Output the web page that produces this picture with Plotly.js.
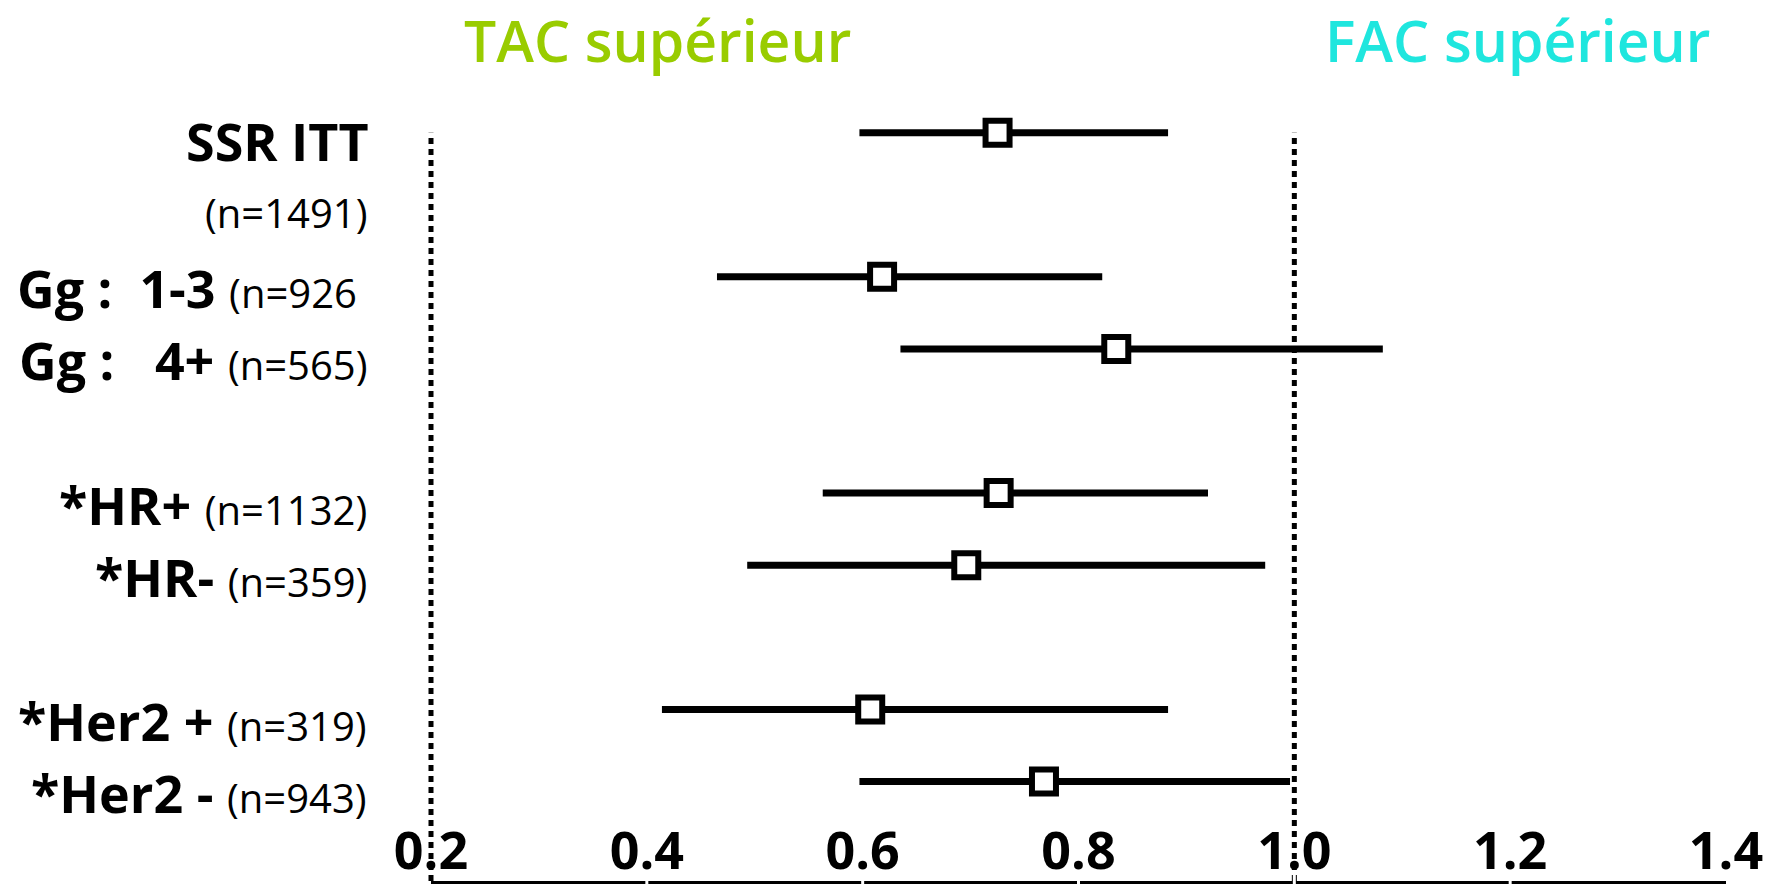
<!DOCTYPE html>
<html>
<head>
<meta charset="utf-8">
<script src="https://cdn.plot.ly/plotly-3.0.1.min.js"></script>
<style>
html, body { margin: 0; padding: 0; background: #ffffff; }
#chart { width: 1787px; height: 884px; }
</style>
</head>
<body>
<div id="chart"></div>
<script>
// ---- data ----
const groups = ['SSR ITT', 'Gg : \u00A01-3', 'Gg : \u00A0\u00A04+', '*HR+', '*HR-', '*Her2 +', '*Her2 -'];
const counts = ['(n=1491)', '(n=926\u00A0', '(n=565)', '(n=1132)', '(n=359)', '(n=319)', '(n=943)'];
const hazardRatio = [0.725, 0.618, 0.835, 0.726, 0.696, 0.607, 0.768];
const ciLow  = [0.597, 0.465, 0.635, 0.563, 0.493, 0.414, 0.597];
const ciHigh = [0.883, 0.822, 1.082, 0.920, 0.973, 0.883, 0.996];
const xTickVals = [0.2, 0.4, 0.6, 0.8, 1.0, 1.2, 1.4];
const xTickText = ['0.2', '0.4', '0.6', '0.8', '1.0', '1.2', '1.4'];
const refLines = [0.2, 1.0];
const sideTitles = ['TAC supérieur', 'FAC supérieur'];

// ---- layout constants ----
const rowSlots = [0, 2, 3, 5, 6, 8, 9];       // vertical slot of each group
const countOwnLine = [true, false, false, false, false, false, false];
const xRange = [0.2, 1.4];
const yRange = [10.38, -0.3];
const FONT = 'Open Sans, Liberation Sans, sans-serif';

const trace = {
  type: 'scatter',
  mode: 'markers',
  x: hazardRatio,
  y: rowSlots,
  cliponaxis: false,
  marker: { symbol: 'square', size: 24, color: '#ffffff', line: { color: '#000000', width: 6 } },
  error_x: {
    type: 'data', symmetric: false,
    array: ciHigh.map((h, i) => h - hazardRatio[i]),
    arrayminus: ciLow.map((l, i) => hazardRatio[i] - l),
    thickness: 7, width: 0, color: '#000000'
  },
  hoverinfo: 'skip',
  showlegend: false
};

const firstRowPaper = (yRange[0] - Math.min(...rowSlots)) / (yRange[0] - yRange[1]);
const shapes = [];
refLines.forEach(v => {
  const px = (v - xRange[0]) / (xRange[1] - xRange[0]);
  shapes.push({ type: 'line', xref: 'paper', yref: 'paper', x0: px, x1: px, y0: 0, y1: firstRowPaper,
    layer: 'below', line: { color: '#000000', width: 5, dash: '6px,5px' } });
});
// small gaps in the axis line at interior ticks
xTickVals.slice(1, -1).forEach(v => {
  shapes.push({ type: 'line', xref: 'x', yref: 'paper', x0: v, x1: v, y0: -0.02, y1: 0.01,
    layer: 'above', line: { color: '#ffffff', width: 3 } });
});

const annotations = [];
groups.forEach((g, i) => {
  const boldPart = '<b>' + g + '</b>';
  const countPart = '<span style="font-size:40px;font-weight:normal">' + counts[i] + '</span>';
  if (countOwnLine[i]) {
    annotations.push({ xref: 'paper', yref: 'y', x: 0, y: rowSlots[i], xanchor: 'right', yanchor: 'middle',
      xshift: -60, yshift: -8, text: boldPart, showarrow: false,
      font: { family: FONT, size: 52, color: '#000000' } });
    annotations.push({ xref: 'paper', yref: 'y', x: 0, y: rowSlots[i] + 1, xanchor: 'right', yanchor: 'middle',
      xshift: -62, yshift: -8, text: countPart, showarrow: false,
      font: { family: FONT, size: 40, color: '#000000' } });
  } else {
    annotations.push({ xref: 'paper', yref: 'y', x: 0, y: rowSlots[i], xanchor: 'right', yanchor: 'middle',
      xshift: -62, yshift: -11, text: boldPart + ' ' + countPart, showarrow: false,
      font: { family: FONT, size: 52, color: '#000000' } });
  }
});
const titleColors = ['#99cc00', '#1fe6de'];
const titleX = [0.41, 1.207];
sideTitles.forEach((t, i) => {
  annotations.push({ xref: 'x', yref: 'paper', x: titleX[i], y: 1, yanchor: 'top', yshift: 111,
    borderpad: 0, text: t, showarrow: false,
    font: { family: FONT, size: 57, weight: 600, color: titleColors[i] } });
});

const layout = {
  width: 1787, height: 884,
  margin: { l: 431, r: 61, t: 111, b: 3 },
  paper_bgcolor: '#ffffff', plot_bgcolor: '#ffffff',
  showlegend: false,
  xaxis: {
    range: xRange, tickvals: xTickVals, ticktext: xTickText,
    showgrid: false, zeroline: false,
    showline: true, linecolor: '#000000', linewidth: 3,
    ticks: '', ticklabelposition: 'inside', ticklabeloverflow: 'allow',
    ticklabelstandoff: 9,
    tickfont: { family: FONT, size: 52, color: '#000000', weight: 'bold' },
    fixedrange: true
  },
  yaxis: { range: yRange, visible: false, showgrid: false, zeroline: false, fixedrange: true },
  shapes: shapes,
  annotations: annotations
};

Plotly.newPlot('chart', [trace], layout, { displayModeBar: false, staticPlot: true });
</script>
</body>
</html>
